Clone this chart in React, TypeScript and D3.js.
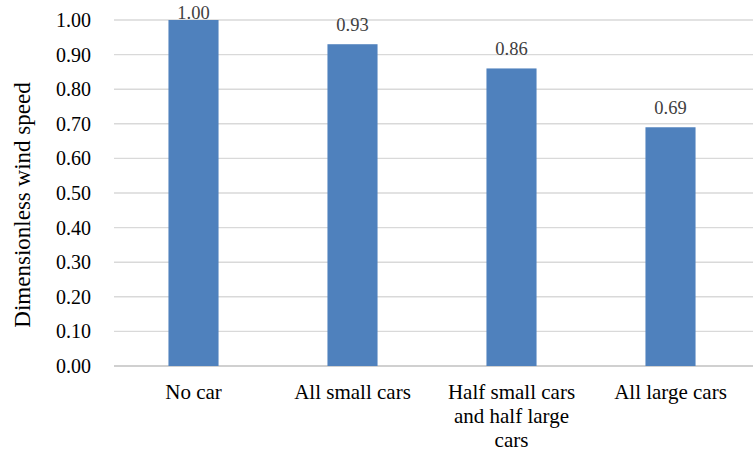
import React from "react";
import * as d3 from "d3";

const categories: string[][] = [
  ["No car"],
  ["All small cars"],
  ["Half small cars", "and half large", "cars"],
  ["All large cars"],
];
const values: number[] = [1.0, 0.93, 0.86, 0.69];
const yTicks: number[] = [0, 0.1, 0.2, 0.3, 0.4, 0.5, 0.6, 0.7, 0.8, 0.9, 1.0];
const yTitle = "Dimensionless wind speed";

const W = 753;
const H = 452;
const left = 114;
const right = 750;
const top = 20;
const bottom = 366;
const font = "Liberation Serif, DejaVu Serif, Times New Roman, serif";

export default function App() {
  const x = d3
    .scaleBand<number>()
    .domain(values.map((_, i) => i))
    .range([left, right])
    .paddingInner(0.685)
    .paddingOuter(0.3425);
  const y = d3.scaleLinear().domain([0, 1]).range([bottom, top]);

  return (
    <svg
      width={W}
      height={H}
      style={{ position: "absolute", left: 0, top: 0, background: "#fff", fontFamily: font }}
    >
      {yTicks.map((t) => (
        <g key={t}>
          <line
            x1={left}
            x2={W}
            y1={y(t)}
            y2={y(t)}
            stroke={t === 0 ? "#d0d0d0" : "#d9d9d9"}
            strokeWidth={t === 0 ? 1.8 : 1.4}
          />
          <text
            x={91}
            y={y(t) + 7}
            textAnchor="end"
            style={{ fontFamily: font, fontSize: 20 }}
            fill="#000"
          >
            {d3.format(".2f")(t)}
          </text>
        </g>
      ))}
      {values.map((v, i) => (
        <g key={i}>
          <rect
            x={x(i)!}
            y={y(v)}
            width={x.bandwidth()}
            height={y(0) - y(v)}
            fill="#4f81bd"
          />
          <text
            x={x(i)! + x.bandwidth() / 2}
            y={Math.max(y(v) - 13, 19)}
            textAnchor="middle"
            style={{ fontFamily: font, fontSize: 18.5 }}
            fill="#404040"
          >
            {d3.format(".2f")(v)}
          </text>
          {categories[i].map((line, j) => (
            <text
              key={j}
              x={x(i)! + x.bandwidth() / 2}
              y={399 + j * 24}
              textAnchor="middle"
              style={{ fontFamily: font, fontSize: 21 }}
              fill="#000"
            >
              {line}
            </text>
          ))}
        </g>
      ))}
      <text
        transform={`translate(30, 205) rotate(-90)`}
        textAnchor="middle"
        style={{ fontFamily: font, fontSize: 23 }}
        fill="#000"
      >
        {yTitle}
      </text>
    </svg>
  );
}
